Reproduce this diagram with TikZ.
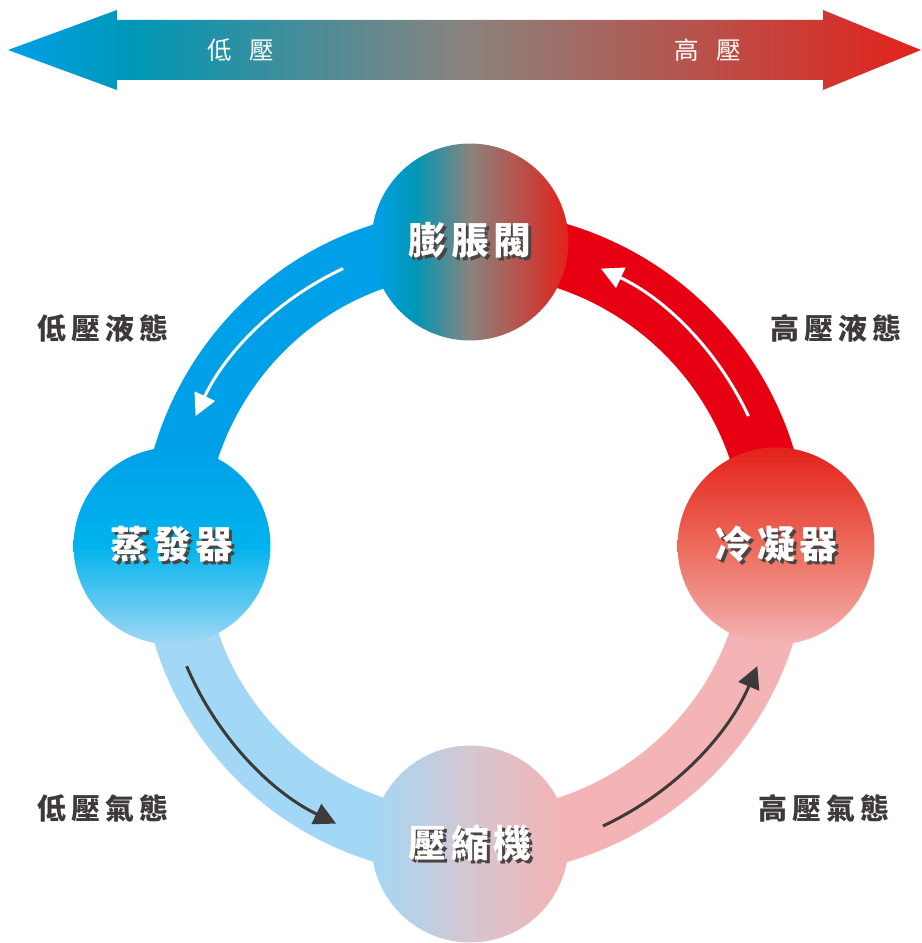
\documentclass[tikz,border=0pt]{standalone}
\usepackage{fontspec}
\usepackage{xcolor}
\usetikzlibrary{arrows.meta, positioning, backgrounds}
\newfontfamily\cjk{Noto Sans CJK TC}
\newfontfamily\cjkunit{Noto Sans CJK TC}[LetterSpace=12]
\newfontfamily\cjklabel{Noto Sans CJK TC}[LetterSpace=18]

\definecolor{lowblue}{HTML}{00A0E9}
\definecolor{lowcyan}{HTML}{00B3EC}
\definecolor{lowteal}{HTML}{0097B6}
\definecolor{paleblue}{HTML}{A2D8F5}
\definecolor{highred}{HTML}{E60012}
\definecolor{warmred}{HTML}{E3221B}
\definecolor{midred}{HTML}{EC6B5B}
\definecolor{palepink}{HTML}{F4B3B4}
\definecolor{midgray}{HTML}{8A837D}
\definecolor{mauve}{HTML}{D6C6D1}
\definecolor{labelgray}{HTML}{3E3A39}
\definecolor{shadowgray}{HTML}{4A4544}

\pgfdeclarehorizontalshading{barshade}{100bp}{color(0bp)=(lowblue); color(25bp)=(lowblue);
  color(32bp)=(lowteal); color(50bp)=(midgray); color(75bp)=(warmred); color(100bp)=(warmred)}
\pgfdeclarehorizontalshading{valveshade}{100bp}{color(0bp)=(lowblue); color(25bp)=(lowblue);
  color(36bp)=(lowteal); color(50bp)=(midgray); color(75bp)=(warmred); color(100bp)=(warmred)}
\pgfdeclareverticalshading{evapshade}{100bp}{color(0bp)=(paleblue); color(25bp)=(paleblue);
  color(50bp)=(lowcyan); color(75bp)=(lowblue); color(100bp)=(lowblue)}
\pgfdeclareverticalshading{condshade}{100bp}{color(0bp)=(palepink); color(25bp)=(palepink);
  color(50bp)=(midred); color(75bp)=(warmred); color(100bp)=(warmred)}
\pgfdeclarehorizontalshading{compshade}{100bp}{color(0bp)=(paleblue); color(25bp)=(paleblue);
  color(50bp)=(mauve); color(75bp)=(palepink); color(100bp)=(palepink)}

\newcommand{\Shadowed}[1]{\makebox[0pt][l]{\hspace{1.7pt}\raisebox{-1.7pt}{\color{shadowgray}#1}}#1}

\begin{document}
\begin{tikzpicture}[x=0.02cm, y=0.02cm, >=Latex, font=\cjk]
\tikzstyle{unit}=[circle, shade, minimum size=3.94cm, inner sep=0pt, text=white,
  font=\cjkunit\bfseries\fontsize{21.5}{24}\selectfont]
\tikzstyle{state}=[text=labelgray, inner sep=0pt, font=\cjklabel\bfseries\fontsize{16.5}{19}\selectfont]
\tikzstyle{bartext}=[text=white, font=\cjk\fontsize{14}{16}\selectfont]
\tikzstyle{ring}=[line width=1.28cm]
\tikzstyle{flow}=[line width=0.06cm, -{Triangle[length=0.44cm, width=0.44cm]}]

\useasboundingbox (0,0) rectangle (921,943);

% pressure bar
\shade[shading=barshade] (8,893) -- (117,933) -- (117,923) -- (823,923) -- (823,933) -- (921,893)
  -- (823,853) -- (823,863) -- (117,863) -- (117,853) -- cycle;
\node[bartext] (lowp) at (241,893) {低\hspace{0.7em}壓};
\node[bartext] (highp) at (708,893) {高\hspace{0.7em}壓};

% units
\node[unit, shading=valveshade] (valve) at (470,701) {\Shadowed{膨脹閥}};
\node[unit, shading=evapshade] (evap) at (172,397) {\Shadowed{蒸發器}};
\node[unit, shading=condshade] (cond) at (776,397) {\Shadowed{冷凝器}};
\node[unit, shading=compshade] (comp) at (470,99) {\Shadowed{壓縮機}};

\begin{scope}[on background layer]
\draw[ring, lowblue] (valve.center) to[out=180, in=90] (evap.center);
\draw[ring, highred] (cond.center) to[out=90, in=0] (valve.center);
\draw[ring, paleblue] (evap.center) to[out=-90, in=180] (comp.center);
\draw[ring, palepink] (comp.center) to[out=0, in=-90] (cond.center);
\end{scope}

% flow direction
\coordinate (O) at (472,398);
\draw[flow, white] (O) ++(115:305) arc[start angle=115, end angle=155, radius=305];
\draw[flow, white] (O) ++(25:305) arc[start angle=25, end angle=65, radius=305];
\draw[flow, labelgray] (O) ++(203:310) arc[start angle=203, end angle=244, radius=310];
\draw[flow, labelgray] (O) ++(-65:310) arc[start angle=-65, end angle=-23, radius=310];

% states
\node[state] (lowliq) at (103,615) {低壓液態};
\node[state] (highliq) at (836,615) {高壓液態};
\node[state] (lowgas) at (103,135) {低壓氣態};
\node[state] (highgas) at (824,135) {高壓氣態};
\end{tikzpicture}
\end{document}
